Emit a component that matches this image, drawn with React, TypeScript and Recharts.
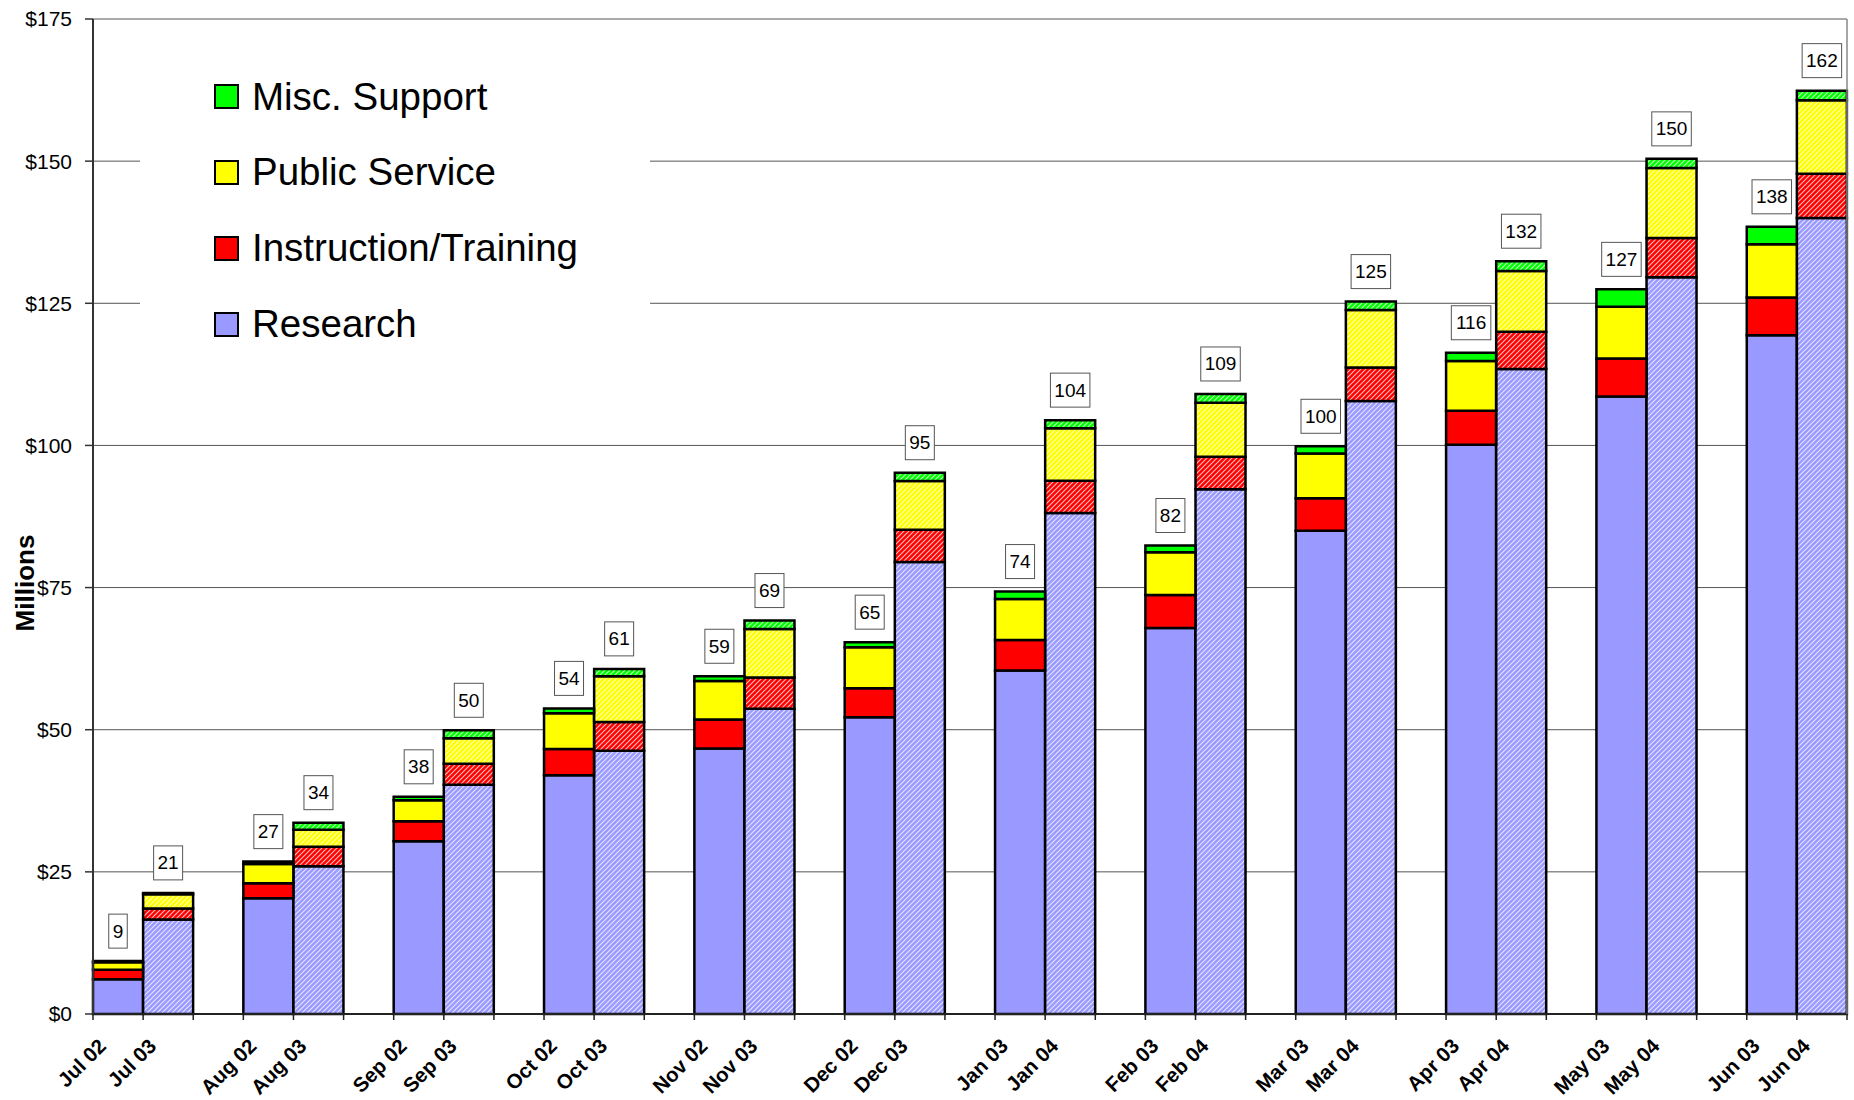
import React from 'react';
import { BarChart, Bar, XAxis, YAxis, CartesianGrid, Cell, LabelList, Legend, Label } from 'recharts';

const FONT = "'Liberation Sans', Arial, Helvetica, sans-serif";

// Category labels (two fiscal years per month)
const categories = [
  'Jul 02', 'Jul 03', 'Aug 02', 'Aug 03', 'Sep 02', 'Sep 03', 'Oct 02', 'Oct 03',
  'Nov 02', 'Nov 03', 'Dec 02', 'Dec 03', 'Jan 03', 'Jan 04', 'Feb 03', 'Feb 04',
  'Mar 03', 'Mar 04', 'Apr 03', 'Apr 04', 'May 03', 'May 04', 'Jun 03', 'Jun 04',
];

// Series values ($ millions)
const research = [
  6.1, 16.6, 20.35, 26.0, 30.4, 40.3, 42.0, 46.3, 46.7, 53.7, 52.2, 79.5,
  60.4, 88.1, 67.9, 92.3, 85.0, 107.8, 100.1, 113.45, 108.6, 129.6, 119.4, 140.0,
];
const instruction = [
  1.7, 1.95, 2.65, 3.4, 3.5, 3.7, 4.6, 5.05, 5.1, 5.5, 5.1, 5.65,
  5.4, 5.7, 5.8, 5.7, 5.7, 5.9, 6.0, 6.55, 6.7, 6.9, 6.6, 7.8,
];
const publicService = [
  1.3, 2.5, 3.4, 3.0, 3.7, 4.5, 6.3, 8.05, 6.75, 8.5, 7.2, 8.6,
  7.2, 9.2, 7.5, 9.5, 7.9, 10.1, 8.75, 10.7, 9.1, 12.3, 9.4, 12.9,
];
const miscSupport = [
  0.2, 0.25, 0.4, 1.25, 0.6, 1.4, 0.85, 1.3, 0.85, 1.5, 0.9, 1.45,
  1.3, 1.45, 1.2, 1.55, 1.25, 1.5, 1.45, 1.7, 3.05, 1.6, 3.05, 1.7,
];
// Boxed total labels
const totals = [
  9, 21, 27, 34, 38, 50, 54, 61, 59, 69, 65, 95,
  74, 104, 82, 109, 100, 125, 116, 132, 127, 150, 138, 162,
];

const yTicks = [0, 25, 50, 75, 100, 125, 150, 175];

const series = [
  { key: 'research', name: 'Research', color: '#9999FF' },
  { key: 'instruction', name: 'Instruction/Training', color: '#FF0000' },
  { key: 'publicService', name: 'Public Service', color: '#FFFF00' },
  { key: 'miscSupport', name: 'Misc. Support', color: '#00FF00' },
];
const legendOrder = ['miscSupport', 'publicService', 'instruction', 'research'];

const seriesValues: Record<string, number[]> = { research, instruction, publicService, miscSupport };

type Row = Record<string, any>;
const rows: Row[] = [];
categories.forEach((c, i) => {
  const r: Row = { cat: c, label: c, total: totals[i], hatched: i % 2 === 1 };
  series.forEach((s) => { r[s.key] = seriesValues[s.key][i]; });
  rows.push(r);
  if (i % 2 === 1 && i < categories.length - 1) rows.push({ cat: `gap${i}`, label: '' });
});
const labelByCat: Record<string, string> = {};
rows.forEach((r) => { labelByCat[r.cat] = r.label; });

const XTick = (props: any) => {
  const { x, y, payload, index, visibleTicksCount, width } = props;
  const half = (payload && payload.offset) || (width / visibleTicksCount / 2);
  const label = labelByCat[payload.value] || '';
  const isLast = index === visibleTicksCount - 1;
  const lx = x - 16;
  const ly = y + 28;
  return (
    <g>
      <line x1={x - half} x2={x - half} y1={y} y2={y + 6} stroke="#222" strokeWidth={1.5} />
      {isLast && <line x1={x + half} x2={x + half} y1={y} y2={y + 6} stroke="#222" strokeWidth={1.5} />}
      {label && (
        <text x={lx} y={ly} transform={`rotate(-45, ${lx}, ${ly})`} textAnchor="end" dominantBaseline="central"
          fontSize={20.5} fontWeight="bold" fontFamily={FONT} fill="#000">{label}</text>
      )}
    </g>
  );
};

const TotalLabel = (props: any) => {
  const { x, y, width, value } = props;
  if (value == null || x == null || y == null) return null;
  const text = String(value);
  const w = text.length * 10.5 + 8;
  const h = 34;
  const cx = x + width / 2;
  const bottom = y - 13;
  return (
    <g>
      <rect x={cx - w / 2} y={bottom - h} width={w} height={h} fill="#fff" stroke="#555" strokeWidth={1} />
      <text x={cx} y={bottom - h / 2} textAnchor="middle" dominantBaseline="central" fontSize={19}
        fontFamily={FONT} fill="#000">{text}</text>
    </g>
  );
};

const LegendBox = () => (
  <div style={{ width: 510, height: 303, background: '#fff', fontFamily: FONT }}>
    {legendOrder.map((k) => {
      const s = series.find((q) => q.key === k)!;
      return (
        <div key={k} style={{ height: 75.75, display: 'flex', alignItems: 'center', paddingLeft: 74 }}>
          <div style={{ width: 25, height: 25, boxSizing: 'border-box', border: '2px solid #000', background: s.color }} />
          <div style={{ marginLeft: 13, fontSize: 38.5, lineHeight: 1, color: '#000' }}>{s.name}</div>
        </div>
      );
    })}
  </div>
);

const MillionsLabel = () => (
  <text x={25} y={583} transform="rotate(-90, 25, 583)" textAnchor="middle" dominantBaseline="central"
    fontSize={26} fontWeight="bold" fontFamily={FONT} fill="#000">Millions</text>
);

export default function App() {
  return (
    <div style={{ position: 'absolute', left: 0, top: 0, width: 1854, height: 1100, background: '#fff' }}>
      <BarChart width={1854} height={1100} data={rows} barCategoryGap={0} barGap={0}
        margin={{ top: 19, right: 6, bottom: 0, left: 0 }}>
        <defs>
          {series.map((s) => (
            <pattern key={s.key} id={`hatch-${s.key}`} patternUnits="userSpaceOnUse" width={5} height={5}>
              <rect width={5} height={5} fill={s.color} />
              <path d="M-1,1 l2,-2 M0,5 l5,-5 M4,6 l2,-2" stroke="#fff" strokeWidth={1.1} strokeOpacity={0.75} />
            </pattern>
          ))}
        </defs>
        <CartesianGrid vertical={false} stroke="#555" strokeWidth={1} />
        <XAxis dataKey="cat" interval={0} tickLine={false} tickSize={0} tickMargin={0} height={86}
          axisLine={{ stroke: '#222', strokeWidth: 2 }} tick={<XTick />} />
        <YAxis domain={[0, 175]} ticks={yTicks} width={93} tickSize={8} tickMargin={13}
          tickFormatter={(v: number) => `$${v}`}
          tick={{ fontSize: 21, fill: '#000', fontFamily: FONT }}
          axisLine={{ stroke: '#333', strokeWidth: 2 }} tickLine={{ stroke: '#333', strokeWidth: 1.5 }}>
          <Label content={<MillionsLabel />} />
        </YAxis>
        <YAxis yAxisId="right" orientation="right" domain={[0, 175]} width={1} tick={false} tickLine={false}
          axisLine={{ stroke: '#888', strokeWidth: 1.5 }} />
        {series.map((s) => (
          <Bar key={s.key} dataKey={s.key} stackId="a" fill={s.color} stroke="#000" strokeWidth={2.5}
            isAnimationActive={false}>
            {rows.map((r, i) => (
              <Cell key={i} fill={r.hatched ? `url(#hatch-${s.key})` : s.color} />
            ))}
            {s.key === 'miscSupport' && <LabelList dataKey="total" content={<TotalLabel />} />}
          </Bar>
        ))}
        <Legend layout="vertical" align="center" verticalAlign="middle" content={() => <LegendBox />}
          wrapperStyle={{ left: 140, top: 59, width: 510, height: 303 }} />
      </BarChart>
    </div>
  );
}
